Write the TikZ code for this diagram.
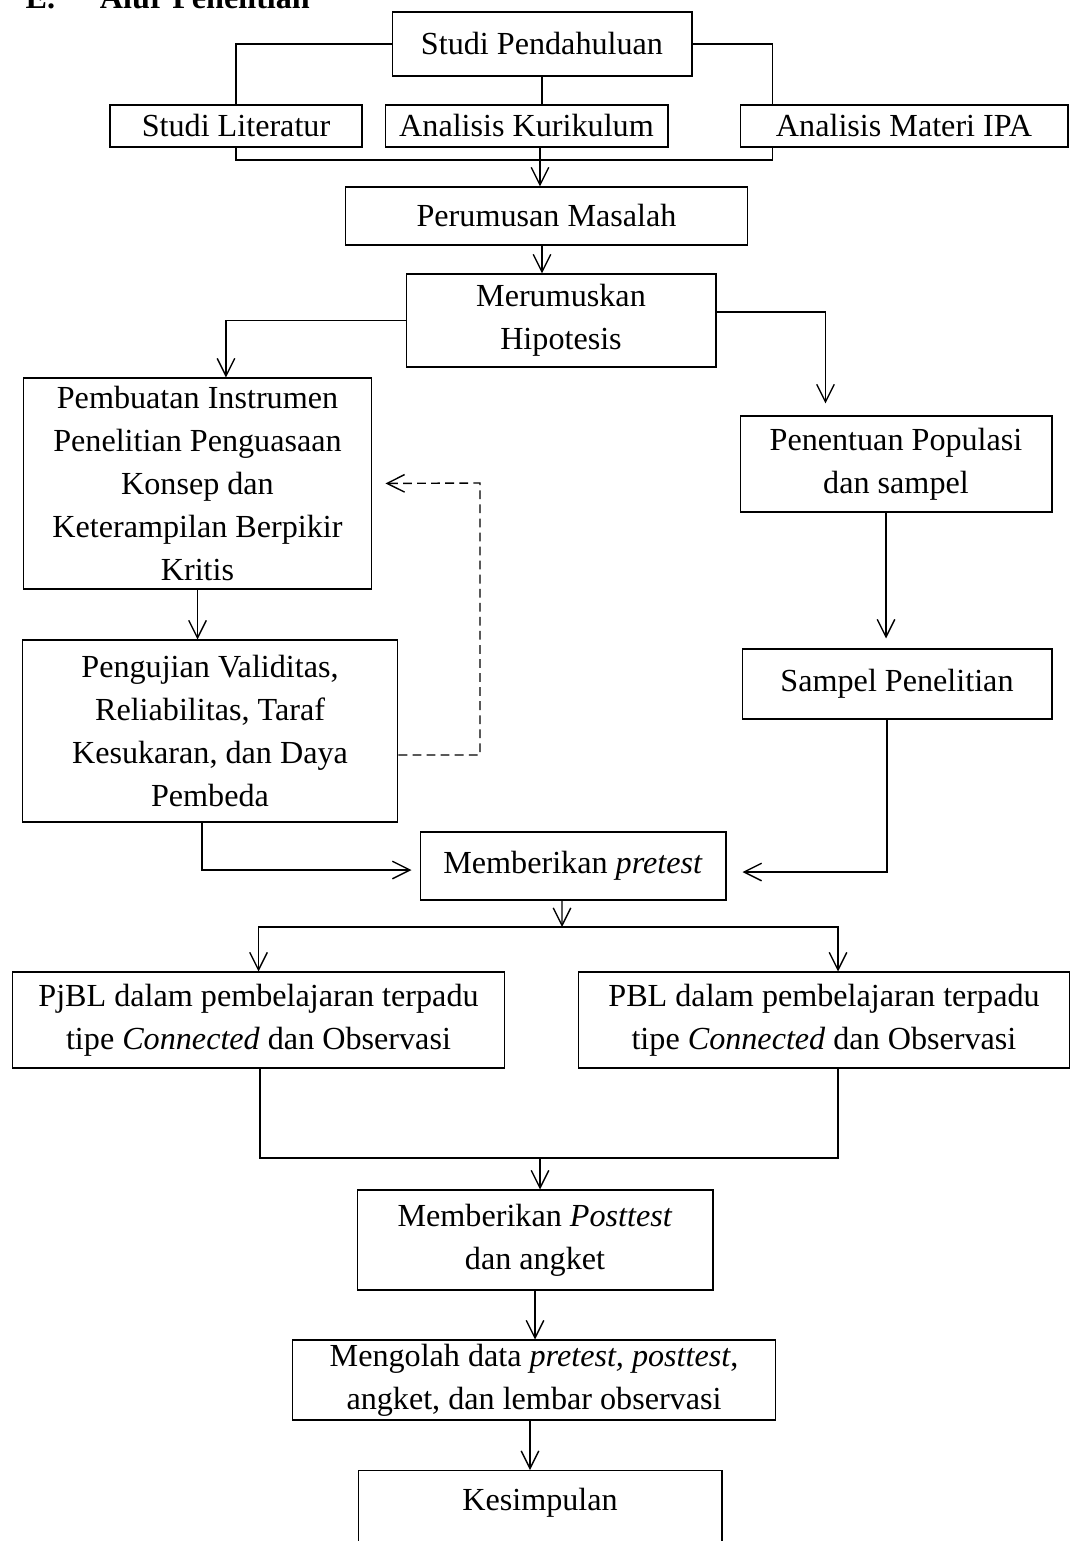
\documentclass[tikz,border=0pt]{standalone}
\usepackage{fontspec}
\setmainfont{Liberation Serif}
\usetikzlibrary{arrows.meta}
\newcommand\boxfont{\fontsize{18.3}{24.4}\selectfont}

\begin{document}
\begin{tikzpicture}[x=0.02cm,y=-0.02cm,>={Straight Barb[length=10pt,width=10pt]},
	line width=0.8pt,
	box/.style={draw,line width=0.6pt,font=\boxfont,align=center,inner sep=0pt}]
\useasboundingbox (0,0) rectangle (1075,1541);
\node[anchor=base west,font=\boxfont\bfseries,inner sep=0pt] (title) at (25,9) {E.\hspace{25.5pt}Alur Penelitian};
\node[box,minimum width=6cm,minimum height=1.28cm] (pend) at (542,44) {Studi Pendahuluan};
\node[box,minimum width=5.04cm,minimum height=0.84cm] (lit) at (236,126) {Studi Literatur};
\node[box,minimum width=5.66cm,minimum height=0.84cm] (kur) at (526.5,126) {Analisis Kurikulum};
\node[box,minimum width=6.56cm,minimum height=0.84cm] (ipa) at (904,126) {Analisis Materi IPA};
\node[box,minimum width=8.06cm,minimum height=1.16cm] (rumus) at (546.5,216) {Perumusan Masalah};
\node[box,minimum width=6.2cm,minimum height=1.86cm] (hipo) at (561,320.5) {Merumuskan\\Hipotesis};
\node[box,minimum width=6.98cm,minimum height=4.22cm] (instr) at (197.5,483.5) {Pembuatan Instrumen\\Penelitian Penguasaan\\Konsep dan\\Keterampilan Berpikir\\Kritis};
\node[box,minimum width=7.52cm,minimum height=3.64cm] (uji) at (210,731) {Pengujian Validitas,\\Reliabilitas, Taraf\\Kesukaran, dan Daya\\Pembeda};
\node[box,minimum width=6.24cm,minimum height=1.92cm] (pop) at (896,464) {Penentuan Populasi\\dan sampel};
\node[box,minimum width=6.2cm,minimum height=1.4cm] (sampel) at (897,684) {Sampel Penelitian};
\node[box,minimum width=6.12cm,minimum height=1.36cm] (pre) at (573,866) {Memberikan \textit{pretest}};
\node[box,minimum width=9.86cm,minimum height=1.92cm] (pjbl) at (258.5,1020) {PjBL dalam pembelajaran terpadu\\tipe \textit{Connected} dan Observasi};
\node[box,minimum width=9.84cm,minimum height=1.92cm] (pbl) at (824,1020) {PBL dalam pembelajaran terpadu\\tipe \textit{Connected} dan Observasi};
\node[box,minimum width=7.12cm,minimum height=2cm] (post) at (535,1240) {Memberikan \textit{Posttest}\\dan angket};
\node[box,minimum width=9.68cm,minimum height=1.6cm] (olah) at (534,1380) {Mengolah data \textit{pretest, posttest},\\angket, dan lembar observasi};
\node[box,minimum width=7.28cm,anchor=north,text height=0.8cm,text depth=1cm] (simpul) at (540,1470) {Kesimpulan};

% cabang studi pendahuluan
\coordinate (bus1) at (540,160);
\draw (pend.west) -| (lit.north);
\draw (pend.east) -| ([xshift=0.66cm]ipa.north west);
\draw (pend.south) -- (pend.south |- kur.north);
\draw (lit.south) |- (bus1) -| ([xshift=0.66cm]ipa.south west);
\draw[->] (kur.south -| bus1) -- (bus1 |- rumus.north);
\draw[->] (rumus.south -| pend) -- (hipo.north -| pend);

% hipotesis ke dua jalur
\draw[->] (hipo.west) -| ([xshift=0.57cm]instr.north);
\draw[->,shorten >=0.24cm] ([yshift=0.17cm]hipo.east) -| ([xshift=1.72cm]pop.north west);
\draw[->] (instr.south) -- (instr.south |- uji.north);
\coordinate (fb) at (480,483);
\draw[->,dash pattern=on 5pt off 3pt,shorten >=0.26cm] ([yshift=-0.48cm]uji.east) -| (fb) -- (instr.east);
\draw[->,shorten >=0.2cm] ([xshift=-0.2cm]pop.south) -- ([xshift=-0.2cm]pop.south |- sampel.north);
\draw[->,shorten >=0.32cm] ([xshift=-0.2cm]sampel.south) |- ([yshift=-0.12cm]pre.east);
\draw[->,shorten >=0.16cm] ([xshift=-0.16cm]uji.south) |- ([yshift=-0.08cm]pre.west);

% pretest ke kelas
\coordinate (bus2) at (562,927);
\draw[->] ([xshift=-0.22cm]pre.south) -- (bus2);
\draw[->] (bus2) -| (pjbl.north);
\draw[->] (bus2) -| ([xshift=0.28cm]pbl.north);
\coordinate (bus3) at (540,1158);
\draw ([xshift=0.03cm]pjbl.south) |- (bus3) -| ([xshift=0.28cm]pbl.south);
\draw[->] (bus3) -- (bus3 |- post.north);
\draw[->] (post.south) -- (post.south |- olah.north);
\coordinate (kes) at (530,1420);
\draw[->] (kes) -- (kes |- simpul.north);
\end{tikzpicture}
\end{document}
